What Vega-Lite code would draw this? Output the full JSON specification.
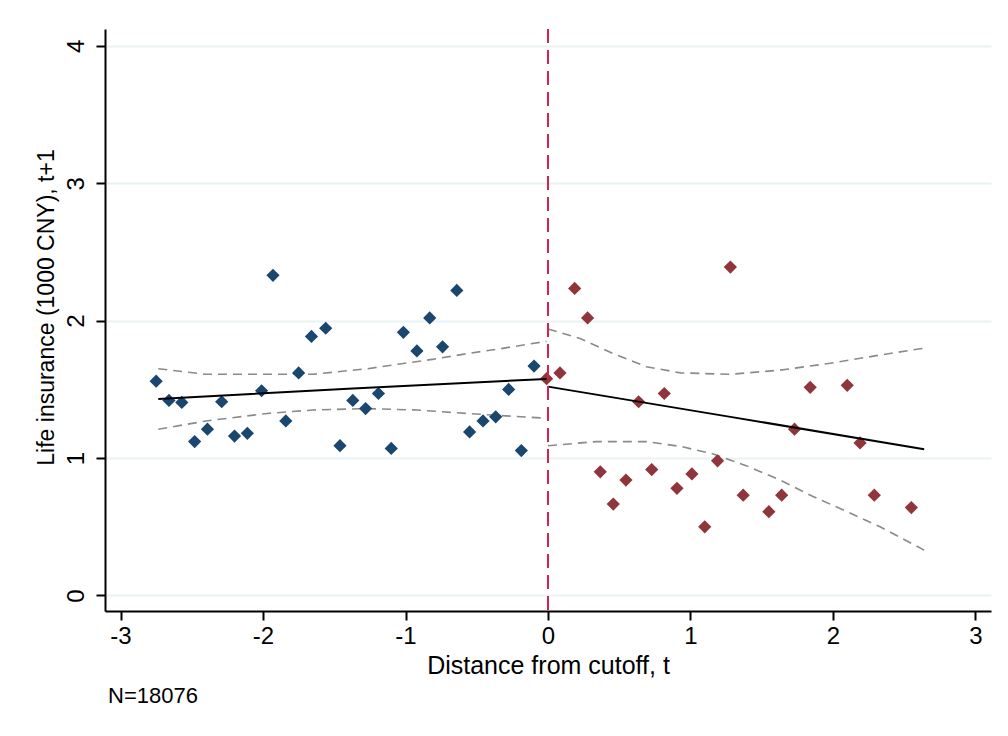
{
  "$schema": "https://vega.github.io/schema/vega-lite/v6.json",
  "autosize": "none",
  "width": 886,
  "height": 582,
  "padding": {"left": 105, "top": 29, "right": 17, "bottom": 125},
  "background": "white",
  "title": {
    "text": "N=18076",
    "orient": "bottom",
    "anchor": "start",
    "frame": "group",
    "fontSize": 22,
    "font": "Liberation Sans",
    "fontWeight": "normal",
    "color": "#000000",
    "offset": 8,
    "dx": 3
  },
  "datasets": {
    "points": [
      {"x": -2.75, "y": 1.56, "side": "left"},
      {"x": -2.66, "y": 1.42, "side": "left"},
      {"x": -2.57, "y": 1.405, "side": "left"},
      {"x": -2.48, "y": 1.12, "side": "left"},
      {"x": -2.39, "y": 1.21, "side": "left"},
      {"x": -2.29, "y": 1.41, "side": "left"},
      {"x": -2.2, "y": 1.16, "side": "left"},
      {"x": -2.11, "y": 1.18, "side": "left"},
      {"x": -2.01, "y": 1.49, "side": "left"},
      {"x": -1.93, "y": 2.33, "side": "left"},
      {"x": -1.84, "y": 1.27, "side": "left"},
      {"x": -1.75, "y": 1.62, "side": "left"},
      {"x": -1.66, "y": 1.885, "side": "left"},
      {"x": -1.56, "y": 1.945, "side": "left"},
      {"x": -1.46, "y": 1.09, "side": "left"},
      {"x": -1.37, "y": 1.42, "side": "left"},
      {"x": -1.28, "y": 1.36, "side": "left"},
      {"x": -1.19, "y": 1.47, "side": "left"},
      {"x": -1.1, "y": 1.07, "side": "left"},
      {"x": -1.015, "y": 1.915, "side": "left"},
      {"x": -0.92, "y": 1.78, "side": "left"},
      {"x": -0.83, "y": 2.02, "side": "left"},
      {"x": -0.74, "y": 1.81, "side": "left"},
      {"x": -0.64, "y": 2.22, "side": "left"},
      {"x": -0.55, "y": 1.19, "side": "left"},
      {"x": -0.456, "y": 1.27, "side": "left"},
      {"x": -0.367, "y": 1.3, "side": "left"},
      {"x": -0.276, "y": 1.5, "side": "left"},
      {"x": -0.187, "y": 1.055, "side": "left"},
      {"x": -0.098, "y": 1.67, "side": "left"},
      {"x": -0.01, "y": 1.578, "side": "right"},
      {"x": 0.084, "y": 1.62, "side": "right"},
      {"x": 0.187, "y": 2.235, "side": "right"},
      {"x": 0.278, "y": 2.02, "side": "right"},
      {"x": 0.367, "y": 0.9, "side": "right"},
      {"x": 0.458, "y": 0.665, "side": "right"},
      {"x": 0.547, "y": 0.84, "side": "right"},
      {"x": 0.636, "y": 1.41, "side": "right"},
      {"x": 0.728, "y": 0.916, "side": "right"},
      {"x": 0.816, "y": 1.47, "side": "right"},
      {"x": 0.905, "y": 0.78, "side": "right"},
      {"x": 1.01, "y": 0.885, "side": "right"},
      {"x": 1.1, "y": 0.5, "side": "right"},
      {"x": 1.19, "y": 0.98, "side": "right"},
      {"x": 1.28, "y": 2.39, "side": "right"},
      {"x": 1.37, "y": 0.73, "side": "right"},
      {"x": 1.55, "y": 0.61, "side": "right"},
      {"x": 1.64, "y": 0.73, "side": "right"},
      {"x": 1.73, "y": 1.21, "side": "right"},
      {"x": 1.84, "y": 1.515, "side": "right"},
      {"x": 2.1, "y": 1.53, "side": "right"},
      {"x": 2.19, "y": 1.11, "side": "right"},
      {"x": 2.29, "y": 0.73, "side": "right"},
      {"x": 2.55, "y": 0.64, "side": "right"}
    ],
    "fit": [
      {"x": -2.735, "y": 1.43, "side": "left"},
      {"x": -1.37, "y": 1.507, "side": "left"},
      {"x": -0.01, "y": 1.576, "side": "left"},
      {"x": 0.0, "y": 1.52, "side": "right"},
      {"x": 1.28, "y": 1.3, "side": "right"},
      {"x": 2.64, "y": 1.065, "side": "right"}
    ],
    "ci": [
      {"x": -2.735, "y": 1.65, "band": "left upper"},
      {"x": -2.4, "y": 1.61, "band": "left upper"},
      {"x": -1.65, "y": 1.61, "band": "left upper"},
      {"x": -1.27, "y": 1.65, "band": "left upper"},
      {"x": -1.04, "y": 1.685, "band": "left upper"},
      {"x": -0.8, "y": 1.72, "band": "left upper"},
      {"x": -0.57, "y": 1.76, "band": "left upper"},
      {"x": -0.34, "y": 1.795, "band": "left upper"},
      {"x": -0.01, "y": 1.85, "band": "left upper"},
      {"x": -2.735, "y": 1.21, "band": "left lower"},
      {"x": -2.4, "y": 1.27, "band": "left lower"},
      {"x": -1.97, "y": 1.325, "band": "left lower"},
      {"x": -1.65, "y": 1.35, "band": "left lower"},
      {"x": -1.27, "y": 1.36, "band": "left lower"},
      {"x": -0.92, "y": 1.35, "band": "left lower"},
      {"x": -0.57, "y": 1.325, "band": "left lower"},
      {"x": -0.34, "y": 1.31, "band": "left lower"},
      {"x": -0.01, "y": 1.29, "band": "left lower"},
      {"x": 0.0, "y": 1.94, "band": "right upper"},
      {"x": 0.225, "y": 1.87, "band": "right upper"},
      {"x": 0.46, "y": 1.76, "band": "right upper"},
      {"x": 0.69, "y": 1.665, "band": "right upper"},
      {"x": 0.93, "y": 1.62, "band": "right upper"},
      {"x": 1.28, "y": 1.61, "band": "right upper"},
      {"x": 1.63, "y": 1.64, "band": "right upper"},
      {"x": 1.98, "y": 1.69, "band": "right upper"},
      {"x": 2.33, "y": 1.75, "band": "right upper"},
      {"x": 2.64, "y": 1.8, "band": "right upper"},
      {"x": 0.0, "y": 1.09, "band": "right lower"},
      {"x": 0.34, "y": 1.12, "band": "right lower"},
      {"x": 0.69, "y": 1.12, "band": "right lower"},
      {"x": 0.93, "y": 1.085, "band": "right lower"},
      {"x": 1.16, "y": 1.03, "band": "right lower"},
      {"x": 1.39, "y": 0.945, "band": "right lower"},
      {"x": 1.63, "y": 0.84, "band": "right lower"},
      {"x": 1.86, "y": 0.72, "band": "right lower"},
      {"x": 2.1, "y": 0.61, "band": "right lower"},
      {"x": 2.33, "y": 0.5, "band": "right lower"},
      {"x": 2.64, "y": 0.33, "band": "right lower"}
    ]
  },
  "layer": [
    {
      "data": {"name": "ci"},
      "mark": {"type": "line", "color": "#8a8a8a", "strokeWidth": 1.6, "strokeDash": [9, 6]},
      "encoding": {
        "x": {
          "field": "x",
          "type": "quantitative",
          "scale": {"domain": [-3.109, 3.109], "nice": false, "zero": false},
          "axis": {
            "values": [-3, -2, -1, 0, 1, 2, 3],
            "labelExpr": "datum.value < 0 ? '-' + abs(datum.value) : '' + datum.value",
            "grid": false,
            "title": "Distance from cutoff, t",
            "titleFontSize": 25,
            "titleFontWeight": "normal",
            "titleBaseline": "alphabetic",
            "titleX": 443,
            "titleY": 62,
            "titleAlign": "center",
            "labelFontSize": 24,
            "labelPadding": 4
          }
        },
        "y": {
          "field": "y",
          "type": "quantitative",
          "scale": {"domain": [-0.113, 4.123], "nice": false, "zero": false},
          "axis": {
            "values": [0, 1, 2, 3, 4],
            "format": "d",
            "grid": true,
            "title": "Life insurance (1000 CNY), t+1",
            "titleFontSize": 23,
            "titleFontWeight": "normal",
            "titleAngle": -90,
            "titleBaseline": "alphabetic",
            "titleAlign": "center",
            "titleX": -52,
            "titleY": 278,
            "labelAngle": -90,
            "labelAlign": "center",
            "labelBaseline": "alphabetic",
            "labelFontSize": 24,
            "labelPadding": 13
          }
        },
        "detail": {"field": "band", "type": "nominal"}
      }
    },
    {
      "data": {"name": "points"},
      "mark": {"type": "point", "shape": "diamond", "filled": true, "size": 175, "opacity": 1},
      "encoding": {
        "x": {"field": "x", "type": "quantitative"},
        "y": {"field": "y", "type": "quantitative"},
        "color": {
          "field": "side",
          "type": "nominal",
          "scale": {"domain": ["left", "right"], "range": ["#1a476f", "#90353b"]},
          "legend": null
        }
      }
    },
    {
      "data": {"name": "fit"},
      "mark": {"type": "line", "color": "#000000", "strokeWidth": 2},
      "encoding": {
        "x": {"field": "x", "type": "quantitative"},
        "y": {"field": "y", "type": "quantitative"},
        "detail": {"field": "side", "type": "nominal"}
      }
    },
    {
      "data": {"values": [{"cutoff": 0}]},
      "mark": {"type": "rule", "color": "#d6214d", "strokeWidth": 2, "strokeDash": [14, 7]},
      "encoding": {"x": {"field": "cutoff", "type": "quantitative"}}
    }
  ],
  "config": {
    "font": "Liberation Sans",
    "view": {"stroke": null},
    "axis": {
      "domainColor": "#000000",
      "domainWidth": 2,
      "tickColor": "#000000",
      "tickWidth": 2,
      "tickSize": 9,
      "labelColor": "#000000",
      "titleColor": "#000000",
      "labelFont": "Liberation Sans",
      "titleFont": "Liberation Sans",
      "gridColor": "#eaf2f3",
      "gridWidth": 2,
      "gridOpacity": 1
    }
  }
}
